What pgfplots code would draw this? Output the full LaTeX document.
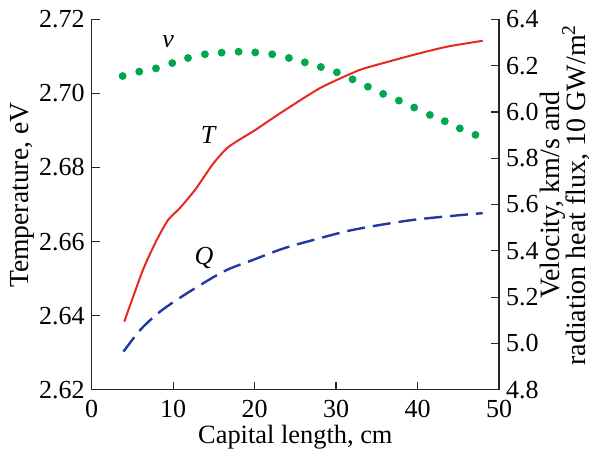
\documentclass[border=0pt]{standalone}
\usepackage{fontspec}
\setmainfont{Liberation Serif}
\usepackage{pgfplots}
\pgfplotsset{compat=1.18}
\definecolor{tred}{RGB}{232,40,30}
\definecolor{qblue}{RGB}{35,55,160}
\definecolor{vgreen}{RGB}{0,166,80}

\begin{document}
\begin{tikzpicture}
\pgfplotsset{
  every axis/.append style={
    scale only axis, width=203.7pt, height=185.3pt,
    xmin=0, xmax=50,
    tick align=inside, major tick length=4pt,
    font=\fontsize{13}{14}\selectfont,
    /pgf/number format/assume math mode=true,
    axis line style={-, line width=0.6pt, black!85},
    every tick/.style={black!85, line width=0.6pt},
  }
}
% left axis: temperature
\begin{axis}[
  axis x line*=bottom, axis y line*=left,
  ymin=2.62, ymax=2.72,
  ytick={2.62,2.64,2.66,2.68,2.70,2.72},
  yticklabel={\pgfmathprintnumber[fixed,fixed zerofill,precision=2]{\tick}},
  xtick={0,10,20,30,40,50},
  xticklabel={\pgfmathprintnumber{\tick}},
  xticklabel style={yshift=-1.5pt},
  xlabel={Capital length, cm},
  xlabel style={font=\fontsize{13.2}{14}\selectfont, inner sep=0pt, at={(axis description cs:0.5,-0.1457)}, anchor=base},
  ylabel={Temperature, eV},
  ylabel style={font=\fontsize{13.8}{14}\selectfont, at={(axis description cs:-0.171,0.525)}, anchor=center},
]
\addplot[tred, line width=1pt, smooth, tension=0.4] coordinates {
  (4,2.6384) (6.3,2.6524) (8,2.6605) (9.4,2.6659) (10.8,2.6690)
  (12.7,2.6740) (14.9,2.6810) (16.6,2.6852) (18.2,2.6876) (20,2.6900)
  (23.1,2.6946) (28,2.7014) (32.1,2.7056) (33.7,2.7069) (39.5,2.7104)
  (43.6,2.7126) (48,2.7142)
};
\node[font=\fontsize{13}{14}\selectfont\itshape] at (axis cs:9.4,2.7140) {v};
\node[font=\fontsize{13}{14}\selectfont\itshape] at (axis cs:14.3,2.6888) {T};
\node[font=\fontsize{13}{14}\selectfont\itshape] at (axis cs:13.8,2.6555) {Q};
\coordinate (sw) at (rel axis cs:0,0);
\coordinate (ne) at (rel axis cs:1,1);
\end{axis}
% right axis: velocity and heat flux
\begin{axis}[
  axis x line=none, axis y line*=right,
  ymin=4.8, ymax=6.4,
  ytick={4.8,5.0,5.2,5.4,5.6,5.8,6.0,6.2,6.4},
  yticklabel={\pgfmathprintnumber[fixed,fixed zerofill,precision=1]{\tick}},
  ylabel style={font=\fontsize{14}{13}\selectfont, inner sep=0pt, align=center, at={(axis description cs:1.162,0.526)}, anchor=center},
  ylabel={Velocity, km/s and\\radiation heat flux, 10 GW/m\smash{\textsuperscript{2}}},
]
\addplot[qblue, line width=1.2pt, smooth, dash pattern=on 9pt off 4pt] coordinates {
  (3.9,4.965) (6,5.06) (8.4,5.138) (11.7,5.217) (16.2,5.311) (19.8,5.361)
  (23.5,5.41) (27.2,5.447) (32.1,5.491) (39.5,5.534) (48,5.563)
};
\addplot[only marks, mark=*, mark size=1.75pt, color=vgreen] coordinates {
  (3.80,6.155) (5.84,6.174) (7.89,6.188) (9.89,6.211) (11.82,6.233)
  (13.90,6.249) (15.95,6.256) (18.03,6.260) (20.08,6.257) (22.16,6.249)
  (24.21,6.233) (26.17,6.214) (28.13,6.194) (30.10,6.171) (32.02,6.141)
  (33.90,6.109) (35.78,6.078) (37.71,6.049) (39.59,6.019) (41.51,5.987)
  (43.35,5.960) (45.19,5.929) (47.11,5.901)
};
\end{axis}
\pgfresetboundingbox
\path[use as bounding box] ([shift={(-45.85pt,-32.5pt)}]sw) rectangle ([shift={(45pt,9.65pt)}]ne);
\end{tikzpicture}
\end{document}
